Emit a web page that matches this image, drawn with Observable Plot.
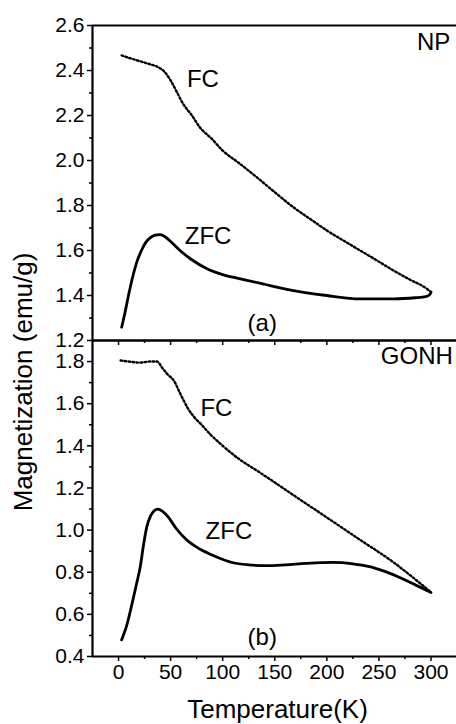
<!DOCTYPE html>
<html>
<head>
<meta charset="utf-8">
<script src="https://cdn.jsdelivr.net/npm/d3@7"></script>
<script src="https://cdn.jsdelivr.net/npm/@observablehq/plot@0.6"></script>
<style>
  body { margin: 0; background: #fff; }
  #wrap { position: relative; width: 456px; height: 724px; overflow: hidden; font-family: "Liberation Sans", Arial, sans-serif; }
  #wrap svg { position: absolute; left: 0; background: transparent; overflow: visible; }
  #ytitle { position: absolute; left: -177px; top: 367px; width: 400px; height: 30px; line-height: 30px; text-align: center; font-size: 26px; color: #000; transform: rotate(-90deg); transform-origin: 50% 50%; white-space: nowrap; }
</style>
</head>
<body>
<div id="wrap"><div id="ytitle">Magnetization (emu/g)</div></div>
<script>
// ---- data ----
const npFcT = [3, 10, 20, 30, 38, 44, 50, 56, 62, 70, 78, 90, 100, 115, 135, 150, 168, 185, 200, 215, 232, 248, 264, 280, 296, 300];
const npFcM = [2.467, 2.456, 2.442, 2.428, 2.415, 2.395, 2.356, 2.304, 2.252, 2.203, 2.148, 2.094, 2.044, 1.991, 1.917, 1.859, 1.792, 1.737, 1.689, 1.647, 1.600, 1.556, 1.511, 1.470, 1.430, 1.415];
const npZfcT = [3, 6, 10, 14, 18, 22, 26, 30, 35, 40, 45, 50, 59, 70, 85, 100, 117, 140, 168, 200, 232, 264, 285, 295, 299, 300];
const npZfcM = [1.259, 1.32, 1.41, 1.49, 1.555, 1.60, 1.635, 1.655, 1.668, 1.671, 1.66, 1.64, 1.60, 1.56, 1.519, 1.493, 1.474, 1.45, 1.422, 1.40, 1.385, 1.385, 1.39, 1.395, 1.405, 1.415];
const goFcT = [2, 10, 20, 30, 37, 42, 47, 53, 60, 66, 72, 79, 88, 98, 115, 133, 150, 170, 200, 230, 264, 285, 300];
const goFcM = [1.805, 1.80, 1.795, 1.80, 1.80, 1.77, 1.74, 1.71, 1.64, 1.583, 1.54, 1.504, 1.455, 1.409, 1.34, 1.282, 1.226, 1.159, 1.06, 0.96, 0.847, 0.766, 0.705];
const goZfcT = [3, 8, 14, 18, 21, 24, 27, 31, 35, 38, 42, 48, 55, 65, 78, 93, 110, 125, 142, 160, 180, 206, 225, 240, 255, 270, 285, 300];
const goZfcM = [0.479, 0.55, 0.673, 0.76, 0.83, 0.93, 1.013, 1.07, 1.095, 1.10, 1.09, 1.06, 1.01, 0.955, 0.91, 0.875, 0.845, 0.835, 0.831, 0.835, 0.842, 0.847, 0.84, 0.828, 0.805, 0.775, 0.74, 0.704];

// tick values
const xMajor = [0, 50, 100, 150, 200, 250, 300];
const xMinor = [-25, 25, 75, 125, 175, 225, 275, 325];
const topMajor = [1.2, 1.4, 1.6, 1.8, 2.0, 2.2, 2.4, 2.6];
const topMinor = [1.3, 1.5, 1.7, 1.9, 2.1, 2.3, 2.5];
const botMajor = [0.4, 0.6, 0.8, 1.0, 1.2, 1.4, 1.6, 1.8];
const botMinor = [0.5, 0.7, 0.9, 1.1, 1.3, 1.5, 1.7];
const xTitle = "Temperature(K)";

const toRows = (T, M) => T.map((t, i) => ({t, m: M[i]}));
const font = "Liberation Sans, Arial, sans-serif";
const xDomain = [-25, 324.5];
const fmt1 = d => d.toFixed(1);

function panel({fc, zfc, yDomain, major, minor, fcLabel, zfcLabel, tag, name, height, marginTop, marginBottom, xLabels}) {
  const marks = [
    Plot.axisY({ticks: major, tickSize: 5, tickPadding: 3, tickFormat: fmt1, label: null, strokeWidth: 1.5, fontSize: 21}),
    Plot.axisY({ticks: minor, tickSize: 3, tickFormat: () => "", label: null, strokeWidth: 1.5}),
    Plot.axisX({ticks: xMajor, tickSize: 5, tickPadding: 3, tickFormat: xLabels ? (d => String(d)) : (() => ""),
      label: null, strokeWidth: 1.5, fontSize: 21}),
    Plot.axisX({ticks: xMinor.filter(d => d > xDomain[0] && d < xDomain[1]), tickSize: 3, tickFormat: () => "", label: null, strokeWidth: 1.5}),
    Plot.ruleX([xDomain[0]], {stroke: "#000", strokeWidth: 2.2}),
    Plot.ruleY([yDomain[0]], {stroke: "#000", strokeWidth: 2}),
    Plot.ruleY([yDomain[1]], {stroke: "#000", strokeWidth: 2}),
    Plot.line(fc, {x: "t", y: "m", curve: "monotone-x", stroke: "#000", strokeWidth: 2.4, strokeDasharray: "1.6 2.4"}),
    Plot.line(zfc, {x: "t", y: "m", curve: "monotone-x", stroke: "#000", strokeWidth: 2.8}),
    Plot.text([fcLabel], {x: "x", y: "y", text: "s", fontSize: 24, textAnchor: "middle", lineAnchor: "middle", fill: "#000"}),
    Plot.text([zfcLabel], {x: "x", y: "y", text: "s", fontSize: 24, textAnchor: "middle", lineAnchor: "middle", fill: "#000"}),
    Plot.text([tag], {x: "x", y: "y", text: "s", fontSize: 24, textAnchor: "middle", lineAnchor: "middle", fill: "#000"}),
    Plot.text([name], {x: "x", y: "y", text: "s", fontSize: 24, textAnchor: "end", lineAnchor: "middle", fill: "#000"})
  ];
  if (xLabels) {
    marks.push(Plot.text([xTitle], {frameAnchor: "bottom", text: d => d, fontSize: 26, lineAnchor: "middle", dy: 53, dx: 3, fill: "#000"}));
  }
  return Plot.plot({
    width: 456, height, marginLeft: 92, marginRight: 0, marginTop, marginBottom,
    style: {fontFamily: font, fontSize: "21px", color: "#000", background: "transparent", overflow: "visible"},
    x: {domain: xDomain},
    y: {domain: yDomain},
    marks
  });
}

const topPanel = panel({
  fc: toRows(npFcT, npFcM), zfc: toRows(npZfcT, npZfcM),
  yDomain: [1.2, 2.6], major: topMajor, minor: topMinor,
  fcLabel: {x: 81, y: 2.36, s: "FC"}, zfcLabel: {x: 86, y: 1.662, s: "ZFC"},
  tag: {x: 138, y: 1.276, s: "(a)"}, name: {x: 318.5, y: 2.524, s: "NP"},
  height: 350, marginTop: 25, marginBottom: 10, xLabels: false
});
topPanel.style.top = "0px";

const botPanel = panel({
  fc: toRows(goFcT, goFcM), zfc: toRows(goZfcT, goZfcM),
  yDomain: [0.4, 1.9], major: botMajor, minor: botMinor,
  fcLabel: {x: 94, y: 1.577, s: "FC"}, zfcLabel: {x: 106, y: 0.992, s: "ZFC"},
  tag: {x: 138, y: 0.489, s: "(b)"}, name: {x: 321, y: 1.824, s: "GONH"},
  height: 384, marginTop: 0, marginBottom: 68, xLabels: true
});
botPanel.style.top = "340px";

const wrap = document.getElementById("wrap");
wrap.appendChild(topPanel);
wrap.appendChild(botPanel);
</script>
</body>
</html>
